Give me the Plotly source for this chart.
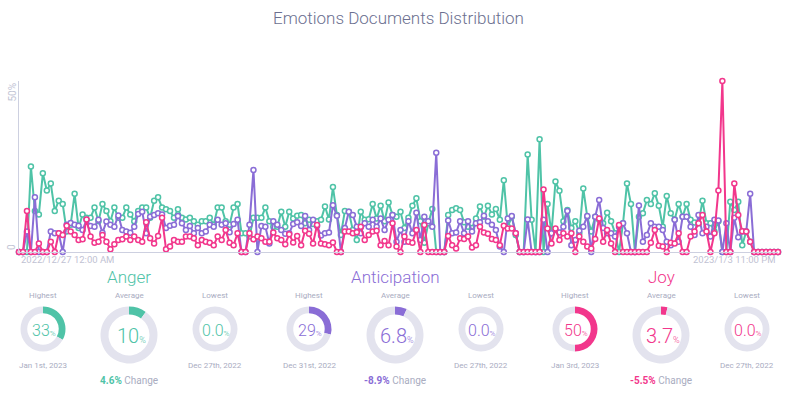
import plotly.graph_objects as go
import pandas as pd

W, H = 797, 393

# ---------------- data ----------------
start_time = "2022-12-27 00:00"
n_hours = 192

anger = [0, 0, 0, 25, 12, 11, 23, 18, 20, 12, 15, 14, 6, 8, 17, 7, 11, 10, 10, 13,
         9, 14, 12, 9, 13, 10, 10, 13, 11, 9, 12, 13, 13, 10, 15, 16, 13, 12.5, 12, 10,
         12.5, 10, 9.5, 10, 9, 8, 9, 9, 10, 8, 13, 13, 9, 8, 13, 14, 5.5, 5.5, 4.5, 10,
         10, 10, 13, 9, 7.4, 7.4, 11.8, 7.4, 11.8, 9.8, 10.6, 10.8, 8.4, 9.4, 8.2, 9, 9.4, 13.3, 9.5, 19,
         10.8, 5, 12, 11.8, 6.4, 3.5, 11.8, 9.4, 9.6, 14, 9.8, 13.5, 9, 14.5, 10.8, 10.3, 11.8, 7, 10, 13.5,
         15.7, 9, 2.7, 8.4, 12.6, 0, 0, 0, 10.8, 12.3, 12.8, 12.3, 8.7, 7.4, 7, 9.8, 13.3, 10.3, 13.5, 11,
         12.6, 9.4, 21, 7.4, 10.3, 5, 0, 0, 28.5, 9.4, 0, 33, 0, 14, 5.5, 20.6, 17.9, 9, 12.3, 7,
         9, 5.5, 18.6, 10.3, 6, 10.3, 9.4, 8.4, 11.5, 9, 5.5, 0, 8.4, 20, 14, 0, 10.3, 11.3, 15.2, 14,
         17.2, 13.5, 7.4, 16.4, 11.3, 9.5, 14, 10.3, 14, 9.4, 8.6, 8.4, 15, 8.4, 8.4, 6, 9, 0, 0, 14.7,
         12.3, 14.7, 2, 6, 3, 0, 0, 0, 0, 0, 0, 0]

anticipation = [0, 0, 6, 0, 16, 0, 0, 0, 6, 5.5, 5.5, 0, 8, 8.5, 8, 7.7, 6.4, 9.4, 7.6, 7.4,
                9.4, 5.6, 8.9, 8, 7.4, 10.7, 6.4, 6, 5.6, 7.4, 11.1, 11.8, 5.5, 10.3, 10.8, 11.3, 11, 7, 7.7, 8,
                10.5, 8.4, 6.4, 7.6, 5.5, 7, 5.5, 6, 8, 7.4, 9.4, 8, 8.4, 5.8, 8.2, 9.4, 0, 0, 8, 24,
                0, 7.6, 7.4, 2.5, 9, 8, 6.4, 5.3, 5.5, 8.2, 8.7, 7.6, 10.5, 6.4, 9.4, 7.6, 4.8, 5.5, 5.7, 13.7,
                10.6, 0, 7, 11.8, 10.8, 7.4, 5.5, 8.4, 7.4, 9.4, 7.4, 9.8, 6.4, 9.4, 10.8, 3, 6.4, 3, 9, 5.5,
                11.5, 3.5, 10.3, 9, 7.4, 29, 0, 0, 9.2, 5.5, 5.7, 9, 5.5, 9, 6, 8.4, 8.7, 10.6, 9, 8,
                6.4, 1.6, 0, 9.8, 10.5, 5.5, 0, 0, 9.5, 0, 0, 0, 9.4, 0, 5.5, 6.4, 5.7, 7.4, 12, 2,
                3.5, 6.2, 7.4, 10.5, 0, 10.3, 15.2, 7, 5.5, 5.5, 4.5, 7.4, 8.4, 5.5, 0, 0, 13.6, 3, 5, 8.4,
                7.4, 7.4, 6.4, 3, 2, 9.4, 3, 10.3, 10.3, 7.4, 5, 10.8, 5.5, 7.4, 4.5, 9.4, 9.2, 0, 8.4, 0,
                10, 4.3, 6, 6, 17, 0, 0, 0, 0, 0, 0, 0]

joy = [0, 0, 12, 0, 0, 2.5, 0, 0, 3, 0, 5.5, 5, 7.7, 6, 5, 3.5, 3.7, 9.5, 4.5, 2.7,
       3, 5, 3, 0.8, 2.3, 3.5, 3.7, 4.5, 3.5, 4.5, 3.5, 3, 8.7, 4, 2.5, 4.7, 10, 0.8, 1.6, 3.5,
       3, 3, 4.5, 4.5, 4, 2, 3.5, 3, 2.7, 2, 4.5, 3.5, 6.4, 2.7, 2, 5.5, 0, 0, 5.5, 3.7,
       4.5, 4, 3, 3, 5.7, 4, 3.5, 2.3, 5.2, 2.8, 4.7, 2, 6.2, 5.3, 2.5, 7.9, 2.5, 2.3, 2, 2.8,
       0, 0, 6, 6, 5.5, 5.8, 7.4, 3.5, 5, 6, 6.2, 2, 3.2, 2, 8.4, 1.6, 0, 4.5, 3, 2.7,
       6.4, 0, 7.9, 0, 0, 0, 0, 0, 4.7, 2, 1, 4, 3.8, 4.5, 1.3, 2, 7.4, 5.7, 5.3, 3.8,
       3.5, 2, 7.7, 6.9, 6.9, 5.5, 0, 0, 0, 0, 0, 0, 18.3, 6.9, 2.5, 6.9, 3.5, 5.5, 4.5, 5.5,
       0, 4.5, 3, 1.6, 1, 3.8, 9.8, 3, 6.4, 2.5, 0, 7.9, 0, 0, 0, 0, 0, 0, 0, 2.7,
       6.4, 1.8, 1.6, 0, 2.7, 2.5, 5.5, 0, 0, 4.5, 6, 8.4, 10.8, 6, 0, 5.5, 18, 50, 0, 0,
       20, 10.8, 6.1, 6, 3, 0, 0, 0, 0, 0, 0, 0]

series_names = ["Anger", "Anticipation", "Joy"]
series_values = [anger, anticipation, joy]
series_colors = ["#4fc3a7", "#8a6dd6", "#f2378c"]

highest = [33, 29, 50]
highest_labels = ["33", "29", "50"]
highest_dates = ["Jan 1st, 2023", "Dec 31st, 2022", "Jan 3rd, 2023"]
average = [10, 6.8, 3.7]
average_labels = ["10", "6.8", "3.7"]
lowest = [0.0, 0.0, 0.0]
lowest_labels = ["0.0", "0.0", "0.0"]
lowest_dates = ["Dec 27th, 2022", "Dec 27th, 2022", "Dec 27th, 2022"]
changes = ["4.6%", "-8.9%", "-5.5%"]

y_tick_labels = ["0", "50%"]
x_tick_labels = ["2022/12/27 12:00 AM", "2023/1/3 11:00 PM"]

times = pd.date_range(start_time, periods=n_hours, freq="h")

# ---------------- helpers ----------------
def px(x):
    return x / W

def py(y):
    return 1 - y / H

FONT = "Roboto"
GRAY_TEXT = "#a9acbf"
RING = "#e3e3ee"
AXIS = "#cdd0e0"

fig = go.Figure()

for name, vals, col in zip(series_names, series_values, series_colors):
    fig.add_trace(go.Scatter(
        x=times, y=vals, name=name, mode="lines+markers",
        line=dict(color=col, width=2),
        marker=dict(symbol="circle", size=5, color="white", line=dict(color=col, width=1.5)),
        cliponaxis=False, showlegend=False, hoverinfo="x+y",
    ))

plot_left, plot_right, plot_top, plot_bottom = 19, 778, 81, 252

fig.update_layout(
    width=W, height=H,
    margin=dict(l=0, r=0, t=0, b=0),
    paper_bgcolor="white", plot_bgcolor="white",
    font=dict(family=FONT),
    xaxis=dict(domain=[px(plot_left), px(plot_right)], range=[times[0], times[-1]],
               showgrid=False, zeroline=False, showticklabels=False,
               showline=True, linecolor=AXIS, linewidth=1, ticks=""),
    yaxis=dict(domain=[py(plot_bottom), py(plot_top)], range=[0, 50],
               showgrid=False, zeroline=False, showticklabels=False,
               showline=True, linecolor=AXIS, linewidth=1, ticks=""),
)

ann = []
# title
ann.append(dict(text="Emotions Documents Distribution", x=px(398), y=py(18), xref="paper", yref="paper",
                showarrow=False, xanchor="center", yanchor="middle",
                font=dict(family=FONT, size=17, color="#6c7090", weight=300)))
# y tick labels (rotated)
ann.append(dict(text=y_tick_labels[0], x=px(12), y=py(plot_bottom), xref="paper", yref="paper",
                showarrow=False, textangle=-90, xanchor="center", yanchor="bottom",
                font=dict(family=FONT, size=10, color="#c3c6d6")))
ann.append(dict(text=y_tick_labels[1], x=px(12), y=py(plot_top), xref="paper", yref="paper",
                showarrow=False, textangle=-90, xanchor="center", yanchor="top",
                font=dict(family=FONT, size=10, color="#c3c6d6")))
# x tick labels
ann.append(dict(text=x_tick_labels[0], x=px(plot_left), y=py(259), xref="paper", yref="paper",
                showarrow=False, xanchor="left", yanchor="middle",
                font=dict(family=FONT, size=9.5, color="#bfc2d3")))
ann.append(dict(text=x_tick_labels[1], x=px(plot_right), y=py(259), xref="paper", yref="paper",
                showarrow=False, xanchor="right", yanchor="middle",
                font=dict(family=FONT, size=9.5, color="#bfc2d3")))

group_centers = [129, 395, 661]
side_offset = 86
small_r, big_r = 22.5, 28.5
small_cy, big_cy = 329, 335


def add_donut(cx, cy, r, value, col, hole):
    fig.add_trace(go.Pie(
        values=[value, 100 - value], sort=False, direction="clockwise", rotation=0,
        hole=hole, marker=dict(colors=[col, RING], line=dict(width=0)),
        textinfo="none", hoverinfo="skip", showlegend=False,
        domain=dict(x=[px(cx - r), px(cx + r)], y=[py(cy + r), py(cy - r)]),
    ))


def center_text(cx, cy, label, col, big):
    s1, s2 = (20, 9) if big else (16, 8)
    ann.append(dict(text=f"{label}<span style='font-size:{s2}px'>%</span>",
                    x=px(cx + (2 if big else 1)), y=py(cy + 1), xref="paper", yref="paper",
                    showarrow=False, xanchor="center", yanchor="middle",
                    font=dict(family=FONT, size=s1, color=col, weight=300)))


def small_text(cx, cy, text, size=8, color=GRAY_TEXT):
    ann.append(dict(text=text, x=px(cx), y=py(cy), xref="paper", yref="paper",
                    showarrow=False, xanchor="center", yanchor="middle",
                    font=dict(family=FONT, size=size, color=color)))


for k in range(3):
    gc = group_centers[k]
    col = series_colors[k]
    lx, rx = gc - side_offset, gc + side_offset
    # section title
    ann.append(dict(text=series_names[k], x=px(gc), y=py(277), xref="paper", yref="paper",
                    showarrow=False, xanchor="center", yanchor="middle",
                    font=dict(family=FONT, size=17, color=col, weight=300)))
    small_text(lx, 295, "Highest")
    small_text(gc, 295, "Average")
    small_text(rx, 295, "Lowest")
    add_donut(lx, small_cy, small_r, highest[k], col, 0.7)
    add_donut(gc, big_cy, big_r, average[k], col, 0.72)
    add_donut(rx, small_cy, small_r, lowest[k], col, 0.7)
    center_text(lx, small_cy, highest_labels[k], col, False)
    center_text(gc, big_cy, average_labels[k], col, True)
    center_text(rx, small_cy, lowest_labels[k], col, False)
    small_text(lx, 365, highest_dates[k])
    small_text(rx, 365, lowest_dates[k])
    ann.append(dict(text=f"<b>{changes[k]}</b> <span style='color:{GRAY_TEXT}'>Change</span>",
                    x=px(gc), y=py(380), xref="paper", yref="paper",
                    showarrow=False, xanchor="center", yanchor="middle",
                    font=dict(family=FONT, size=10, color=col)))

fig.update_layout(annotations=ann)
fig.write_html("out.html", config={"displayModeBar": False},
               post_script="document.body.style.margin='0';document.body.style.overflow='hidden';")
